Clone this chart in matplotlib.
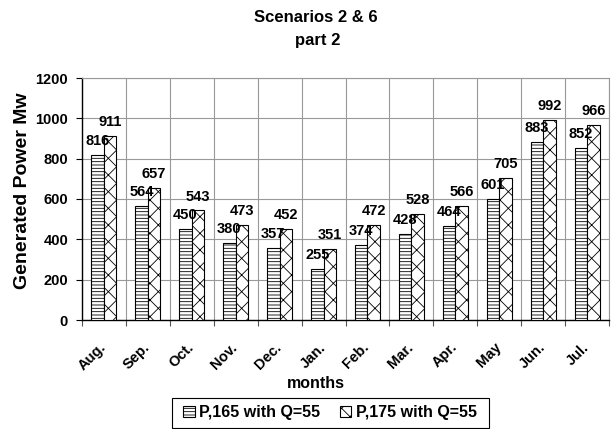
import matplotlib
matplotlib.use("Agg")
import matplotlib.pyplot as plt
from matplotlib.patches import Rectangle
import numpy as np

plt.rcParams['font.family'] = ['Liberation Sans', 'DejaVu Sans']
plt.rcParams['hatch.linewidth'] = 0.6

months = ["Aug.", "Sep.", "Oct.", "Nov.", "Dec.", "Jan.", "Feb.", "Mar.", "Apr.", "May", "Jun.", "Jul."]
p165 = [816, 564, 450, 380, 357, 255, 374, 428, 464, 601, 883, 852]
p175 = [911, 657, 543, 473, 452, 351, 472, 528, 566, 705, 992, 966]
series_names = ["P,165 with Q=55", "P,175 with Q=55"]
yticks = [0, 200, 400, 600, 800, 1000, 1200]

fig = plt.figure(figsize=(6.14, 4.29), dpi=100)
ax = fig.add_axes([82/614, 1-320/429, (609-82)/614, (320-78)/429])

x = np.arange(len(months))
w = 0.285
b1 = ax.bar(x - w/2, p165, w, color="white", edgecolor="black", linewidth=0.8,
            hatch="-----", label=series_names[0], zorder=3)
b2 = ax.bar(x + w/2, p175, w, color="white", edgecolor="black", linewidth=0.8,
            hatch="xx", label=series_names[1], zorder=3)

for bars, vals in ((b1, p165), (b2, p175)):
    for r, v in zip(bars, vals):
        ax.annotate(str(v), (r.get_x() + r.get_width()/2, v), xytext=(0, 5),
                    textcoords="offset points", ha="center", va="bottom",
                    fontsize=10.5, fontweight="bold", zorder=4)

ax.set_xlim(-0.5, len(months) - 0.5)
ax.set_ylim(0, 1200)
ax.set_yticks(yticks)
ax.set_yticklabels([str(t) for t in yticks], fontsize=10.5, fontweight="bold")
ax.yaxis.grid(True, color="#999999", linewidth=0.8, zorder=0)

# category boundaries carry ticks and vertical gridlines
bounds = np.arange(len(months) + 1) - 0.5
ax.set_xticks(bounds)
ax.set_xticklabels([])
ax.xaxis.grid(True, color="#999999", linewidth=0.8, zorder=0)
ax.tick_params(axis="x", length=4, direction="out", color="#555555")
ax.tick_params(axis="y", length=4, direction="out", pad=6)
for i, m in enumerate(months):
    ax.text(i - 0.12, -100, m, rotation=45, ha="right", va="top", rotation_mode="anchor",
            fontsize=10.5, fontweight="bold")

for s in ("top", "right"):
    ax.spines[s].set_color("#999999")
ax.spines["left"].set_linewidth(1.0)
ax.spines["bottom"].set_linewidth(1.0)

fig.text(23/614, 1-191/429, "Generated Power Mw", rotation=90, ha="center", va="center",
         fontsize=14, fontweight="bold")
fig.text(316/614, 1-384/429, "months", ha="center", va="center", fontsize=11.5, fontweight="bold")

fig.text(316/614, 1-18/429, "Scenarios 2 & 6", ha="center", va="center", fontsize=12, fontweight="bold")
fig.text(318/614, 1-40/429, "part 2", ha="center", va="center", fontsize=12, fontweight="bold")

leg = fig.legend(handles=[b1, b2], loc="center", bbox_to_anchor=(330/614, 1-412.5/429), ncol=2,
                 frameon=False, prop={"weight": "bold", "size": 11.5},
                 handlelength=0.7, handleheight=0.7, handletextpad=0.3,
                 columnspacing=1.2, borderpad=0.2, borderaxespad=0)
fig.patches.append(Rectangle((172/614, 1-428/429), 317/614, 30/429, transform=fig.transFigure,
                             fill=False, edgecolor="black", linewidth=0.8))

fig.savefig("out.png", dpi=100)
